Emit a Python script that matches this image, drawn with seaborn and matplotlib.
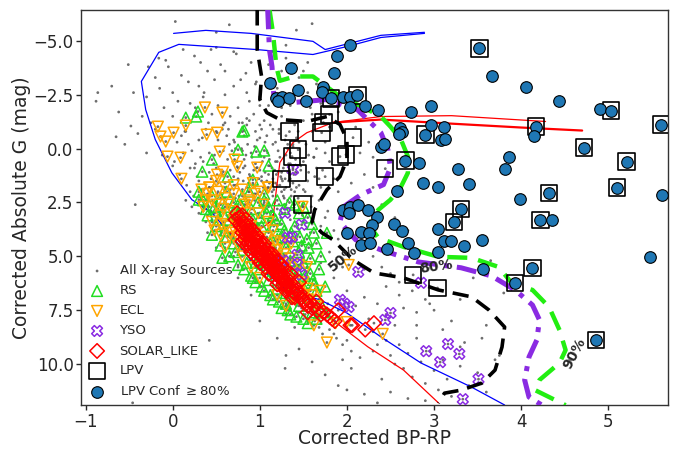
import numpy as np
import pandas as pd
import matplotlib
matplotlib.use("Agg")
import matplotlib.pyplot as plt
import seaborn as sns

# ---------------- data ----------------
gray_x = [-0.88,-0.86,-0.65,-0.48,-0.51,0.03,0.5,0.65,-0.16,0.25,-0.05,0.1,0.4,-0.2,0.55,0.78,0.9,0.3,0.0,-0.3,
          0.6,0.85,-0.1,0.2,0.45,0.75,-0.35,-0.2,0.05,0.3,0.35,0.0,-0.3,0.65,0.8,0.95,1.05,1.2,1.1,1.45,1.55,1.7,
          0.7,0.75,0.82,0.88,0.9,0.95,1.0,1.02,1.05,1.08,1.1,1.12,1.15,1.18,1.2,1.22,1.25,1.28,1.3,1.32,1.35,1.38,
          1.4,1.45,1.5,1.55,1.6,1.65,1.7,1.75,0.6,0.65,0.7,0.78,0.85,0.92,0.98,1.05,1.12,1.2,1.26,1.35,1.42,1.5,1.58,
          1.0,1.15,1.3,1.25,1.4,1.45,1.6,1.65,1.8,1.85,1.9,1.95,2.05,2.2,2.3,2.25,2.1,1.9,0.5,0.45,0.55,0.4,0.3,0.2,0.25,
          0.35,0.45,0.5,0.55,0.62,0.68,0.72,0.78,0.82,0.88,0.9,0.95,1.0,1.05,1.1,1.15,1.2,1.25,1.3,1.35,1.4,1.45,1.5,
          1.55,1.6,1.7,1.75,1.85,1.9,2.0,0.6,0.7,0.8,1.0,1.1,1.3,1.4,0.4,0.5,
          1.6,1.7,1.8,1.85,1.95,2.0,2.1,2.2,2.25,2.3,2.35,2.45,2.5,2.55,2.6,2.65,2.7,2.75,2.8,2.85,2.9,2.95,3.0,3.05,
          3.1,3.15,3.2,3.3,3.35,3.4,3.5,3.45,3.6,2.6,2.4,2.2,1.45,1.6,1.75,1.9,2.05,2.2,2.4,2.5,1.2,1.0,2.7,2.9,3.65,3.2,
          1.4,1.6,1.75,1.8,2.0,2.15,2.3,2.4,2.0,1.7,1.9,-0.43,-0.46,0.42,0.75,1.29,
          0.15,0.35,0.6,0.85,1.0,1.15,0.95,0.7,0.5,1.3,1.5,1.65,1.35,0.85,1.25,1.55,0.72,1.08,1.38,1.62,
          2.6,2.8,3.1,3.3,2.45,2.95,2.2,3.6,3.75,1.3,1.95,2.35,
          0.62,0.68,0.71,0.74,0.77,0.79,0.81,0.83,0.86,0.87,0.89,0.91,0.93,0.94,0.96,0.97,0.99,1.01,1.03,1.04,
          1.06,1.07,1.09,1.11,1.13,1.14,1.16,1.17,1.19,1.21,1.23,1.24,1.27,1.29,1.31,1.33,1.36,1.39,1.41,1.44,
          1.47,1.49,1.52,1.56,1.59,1.63,1.68,1.72,1.78,0.66,0.72,0.76,0.8,0.84,0.9,0.98,1.02,1.08,1.12,1.18,
          1.22,1.32,1.42,1.5,1.58,0.58,0.52,0.48,0.42,0.38,
          -0.7,-0.62,-0.55,-0.45,-0.4,-0.28,-0.25,-0.15,-0.12,-0.08,0.0,0.06,0.12,0.14,0.18,0.22,0.26,0.32,0.36,0.41,
          0.44,0.48,0.52,0.57,0.6,0.66,0.7,0.73,0.8,0.84,0.88,0.93,0.96,1.0,1.1,1.15,1.3,1.42,1.6,1.25,
          0.3,0.42,0.48,0.58,0.64,0.7,0.74,0.84,0.92,0.97,1.04,1.08,1.13,1.18,1.23,1.28,1.33,1.38,1.42,1.48,
          1.52,1.58,1.63,1.68,1.72,1.8,1.88,1.95,2.05,2.15,1.08,1.18,1.28,1.38,1.48,1.58,1.68,1.78,0.6,0.75,0.9,
          1.75,1.85,2.1,2.3,2.5,2.75,2.9,3.0,3.2,3.3,2.65,2.45,2.8,2.3,2.55,2.0,2.35,3.55,3.7,3.6,3.8,3.4,3.0,2.7,2.55,
          0.02,0.08,0.12,0.16,0.2,0.24,0.28,0.32,0.36,0.4,0.44,0.47,0.51,0.54,0.57,0.6,0.63,0.66,0.69,0.72,
          0.75,0.78,0.81,0.84,0.87,0.9,0.93,0.96,0.99,1.02,1.05,1.08,1.11,1.14,1.17,1.2,1.23,1.26,1.29,1.32,
          1.35,1.38,1.41,1.44,1.47,1.5,1.53,1.56,1.62,1.68,
          0.1,0.18,0.26,0.34,0.42,0.5,0.58,0.64,0.7,0.76,0.82,0.88,0.94,1.0,1.06,0.3,0.38,0.46,0.22,0.15,
          0.56,0.64,0.7,0.52,0.44,
          1.21,1.24,1.27,1.3,1.33,1.36,1.39,1.42,1.45,1.25,1.3,1.35,1.4,1.2,1.28,1.32,1.38,1.22,1.18,1.15]
gray_y = [-2.2,-2.6,-0.55,-1.05,-3.9,-5.9,-5.4,-5.75,-4.2,-4.3,-3.8,-3.4,-3.6,-3.3,-3.9,-3.2,-4.0,-2.9,-2.6,-2.4,
          -2.5,-2.6,-1.9,-2.1,-1.6,-1.9,-1.5,-0.9,-0.3,-0.4,0.6,0.8,0.2,-0.2,0.1,-0.8,-1.3,-2.8,-3.9,-3.3,-4.0,-2.1,
          0.3,0.9,0.5,1.2,0.2,0.7,1.0,1.5,0.4,1.9,1.2,0.8,2.2,1.6,0.6,2.6,1.1,1.9,0.3,2.4,1.4,0.9,
          2.0,1.7,0.6,1.5,2.2,0.9,1.8,0.2,1.6,2.2,1.3,2.5,1.8,2.8,2.3,3.0,3.2,3.5,3.0,3.3,2.9,3.4,3.9,
          -0.5,-0.2,-0.6,-1.5,-1.1,-0.3,-0.8,0.0,0.6,1.4,2.0,0.9,1.6,1.2,0.4,-0.3,-1.0,-1.7,0.9,1.8,2.6,2.3,1.5,2.0,0.9,
          2.9,3.3,2.5,3.8,3.1,4.2,3.5,4.6,3.9,5.2,4.3,5.5,4.8,5.9,5.2,6.4,5.6,6.8,6.1,7.2,6.5,7.6,6.9,
          8.0,7.3,8.1,7.5,8.6,7.9,8.9,4.4,5.0,5.6,6.4,6.9,7.7,8.3,3.9,4.6,
          4.5,5.3,4.8,6.0,5.5,6.6,7.3,6.9,7.9,8.5,7.2,8.9,9.6,8.2,9.1,10.2,9.5,10.6,8.8,9.9,10.9,9.4,10.3,11.2,
          9.8,10.7,11.5,10.1,9.0,11.0,10.4,6.0,7.4,6.2,5.5,4.6,9.3,9.9,10.5,11.0,10.2,11.4,10.7,11.3,8.8,8.0,11.6,11.7,5.2,4.2,
          -2.5,-1.6,-0.3,-1.0,-0.2,0.2,1.8,2.6,3.2,3.6,4.2,2.6,11.8,8.9,5.5,10.2,
          -0.8,-2.4,-1.2,-1.1,-2.0,-0.9,-3.0,-4.5,-4.7,-4.8,-3.6,-3.0,-2.0,-1.4,-1.9,-2.6,0.0,0.1,-0.1,0.4,
          6.8,7.6,8.4,9.2,6.4,7.2,5.6,8.2,9.6,9.6,9.8,9.1,
          -0.6,0.1,-0.3,0.6,1.1,0.0,1.5,0.8,-0.2,2.0,1.3,0.4,1.7,2.4,0.9,-0.4,1.4,2.7,0.6,1.8,
          1.1,2.3,0.2,1.6,2.9,0.9,1.9,2.5,1.2,0.1,1.7,3.2,2.2,1.4,2.8,0.7,1.9,2.6,1.1,2.3,
          1.0,3.1,2.0,0.3,2.7,1.3,2.4,1.0,2.9,1.0,1.7,2.2,2.9,0.3,3.2,3.5,-0.9,-0.6,-1.1,-0.3,
          -0.9,-0.2,-0.5,-1.3,-1.9,-1.1,-0.4,0.3,1.1,-0.9,
          -2.9,-1.7,-0.2,-2.6,-0.7,-3.8,-1.2,-2.8,0.3,-4.1,-1.5,-2.2,-4.6,-0.8,-3.1,0.1,-1.9,-4.0,-2.6,-1.2,
          -4.6,-3.2,-2.0,-0.9,-3.6,-1.5,-2.9,-4.4,-1.2,-3.5,-2.2,-1.6,-3.1,-2.4,-2.0,-4.5,-4.2,-5.5,-5.8,-3.6,
          2.6,2.7,3.0,3.4,3.9,4.0,4.2,4.4,5.0,5.1,5.4,5.6,6.0,6.1,6.5,6.4,6.9,7.1,7.3,7.4,
          7.7,7.8,8.0,8.3,8.6,8.4,8.8,9.1,9.4,9.7,4.3,4.6,5.0,5.6,6.0,6.6,7.0,7.2,5.2,6.0,6.8,
          3.2,3.8,4.0,5.0,5.8,6.6,7.0,7.5,8.0,7.0,7.4,7.7,8.2,9.4,10.0,11.2,11.8,8.8,9.8,11.3,6.7,5.6,4.7,3.8,3.2,
          0.6,1.2,0.2,1.7,0.9,2.2,1.3,0.4,1.9,2.6,1.4,0.7,2.1,3.0,1.2,2.5,0.5,1.9,3.4,2.3,
          1.4,3.1,0.9,2.6,1.6,3.0,1.0,2.1,0.3,1.3,2.5,1.5,0.5,2.0,1.0,2.8,0.4,1.5,-0.4,1.1,
          0.2,1.6,0.5,-0.8,0.8,1.9,-0.2,1.1,0.4,1.4,
          -0.6,-0.2,0.7,-0.5,0.2,-0.8,0.1,-0.9,-0.4,-1.2,-0.6,-1.3,-0.1,-1.1,-0.3,3.0,3.4,3.6,2.7,2.4,
          3.9,4.3,2.7,1.6,2.9,
          1.1,1.3,0.9,1.8,1.5,2.2,1.2,1.8,2.5,2.0,2.6,0.7,2.9,1.7,2.3,0.0,-0.2,-0.7,0.6,1.4]

rs_x = [0.29,0.15,0.27,0.82,0.75,0.45,0.34,0.30,0.96,1.05,1.10,0.92,0.63,0.80,1.77,0.57,
        0.35,0.45,0.5,0.55,0.6,0.65,0.7,0.75,0.8,0.85,0.9,0.95,1.0,1.05,1.1,1.15,1.2,1.25,1.3,1.34,1.4,1.45,1.54,
        1.5,1.58,1.61,1.65,1.55,1.45,1.3,1.4,1.35,1.25,1.2,1.1,1.0,0.95,0.85,0.8,0.7,0.6,0.5,0.45,0.55,0.65,0.75,
        0.9,1.05,1.15,1.25,1.35,1.5,1.6,1.7,1.75,1.7,1.65,1.6,1.5,1.45,1.2,1.1,0.95,1.05,1.15,1.3,1.4,1.5,0.3,0.4,
        0.62,0.72,0.82,0.92,1.02,1.12,1.22,1.32,1.42,1.52,1.62,1.56,1.46,1.36,1.26,1.16,1.08,0.98,0.88,0.78,
        0.68,0.58,0.48,0.38,0.52,0.62,0.72,0.82,0.92,1.02,1.12,1.22,1.32,1.42,1.55,1.65,1.75,1.68,1.58,1.48,
        1.38,1.28,1.18,1.28,1.4,1.55,1.62,1.05,0.85,0.95,1.3]
rs_y = [-1.72,-1.44,-1.49,-0.84,0.05,0.51,1.07,2.37,0.14,0.09,0.79,1.44,1.30,-0.79,3.91,5.07,
        2.4,2.2,2.9,2.3,2.7,3.3,2.5,3.0,2.2,3.4,2.8,3.7,3.2,2.1,3.9,3.1,4.2,3.5,4.6,2.5,3.6,4.8,4.2,
        5.3,5.8,6.1,6.6,6.9,7.3,7.2,6.0,5.2,5.7,6.5,6.1,5.6,6.2,5.3,4.7,4.4,3.8,3.6,4.0,4.5,5.0,5.4,
        5.9,6.6,7.0,7.4,7.7,7.9,7.6,7.2,6.4,5.0,4.4,3.5,2.7,3.0,2.4,2.7,4.5,4.9,5.3,6.7,6.9,6.4,2.0,3.1,
        2.0,2.8,3.2,3.3,3.6,4.4,4.9,5.4,5.6,5.9,6.3,4.6,4.1,3.9,4.1,3.6,3.0,2.5,2.0,2.6,
        3.1,3.0,2.7,2.8,3.3,4.1,4.8,5.6,6.0,6.4,6.8,7.1,7.5,7.8,8.1,7.9,7.6,5.6,5.1,4.5,
        4.3,3.8,3.3,2.8,2.6,3.2,3.9,2.4,4.0,5.3,6.3]

ecl_x = [0.37,0.57,-0.17,-0.14,-0.08,0.01,0.15,0.39,0.51,-0.06,0.09,0.54,0.71,0.74,0.10,0.42,0.51,0.58,0.97,1.09,0.87,1.49,
         0.35,0.4,0.45,0.5,0.55,0.6,0.62,0.68,0.72,0.78,0.82,0.86,0.9,0.95,1.0,1.05,1.1,1.15,1.2,1.25,1.3,1.35,1.4,1.45,
         1.5,1.55,1.6,1.7,1.62,0.65,0.75,0.55,0.7,0.88,0.98,1.1,1.0,0.92,1.1,1.18,1.28,1.36,0.8,0.9,1.0,1.2,1.3,
         1.77,1.87,2.0,2.41,2.02,1.54,1.69,0.42,
         0.33,0.45,0.52,0.58,0.64,0.7,0.76,0.84,0.9,0.96,1.02,1.08,1.12,1.18,1.22,0.7,0.8,0.6,0.5,0.38,0.94,1.04,
         0.66,0.56,0.48,0.85,0.78,1.24,1.15,1.35,1.45,1.55,1.65,1.4,0.6]
ecl_y = [-1.91,-1.67,-1.02,-0.56,-0.33,-0.74,-1.07,-0.65,-0.74,0.37,0.42,0.14,0.51,0.84,1.40,1.81,1.21,1.07,0.88,1.81,2.51,2.70,
         2.7,2.1,3.4,2.6,3.1,2.3,3.6,2.9,3.9,3.3,2.6,4.1,3.6,4.8,4.2,5.1,4.6,5.6,5.0,6.0,5.5,6.4,5.8,6.7,
         6.2,7.0,6.8,7.6,8.2,4.1,4.5,4.0,2.1,2.4,3.0,3.4,2.0,1.6,1.8,4.3,4.9,4.4,5.0,5.5,6.0,6.8,7.3,
         9.0,8.1,8.05,8.6,5.4,5.5,6.6,1.8,
         1.9,2.4,2.0,2.8,2.6,3.3,3.6,3.0,4.1,3.9,4.6,4.1,5.1,4.7,5.3,1.7,1.9,1.8,1.5,2.4,2.1,2.6,
         3.9,3.5,3.8,3.7,4.0,4.4,3.8,5.1,5.4,6.5,7.3,7.0,4.6]

yso_x = [1.29,1.48,1.32,1.37,1.43,1.43,1.48,1.27,1.92,2.02,1.97,2.50,2.44,2.13,3.16,2.91,3.29,3.07,3.51,3.33,2.85,1.38]
yso_y = [2.98,3.53,4.14,4.10,4.93,5.40,5.85,5.20,7.02,7.35,7.20,7.63,7.95,5.72,9.07,9.40,9.53,9.91,10.70,11.63,6.23,0.98]

sol_x = [0.72,0.76,0.78,0.8,0.82,0.84,0.86,0.88,0.9,0.92,0.94,0.96,0.98,1.0,1.0,1.02,1.04,1.06,1.08,1.1,1.1,1.12,
         1.14,1.16,1.18,1.2,1.22,1.24,1.26,1.28,1.3,1.32,1.35,1.38,1.4,1.43,1.46,1.5,1.53,1.57,1.6,1.66,1.73,1.8,
         1.86,0.85,0.9,0.95,1.05,1.15,1.25,1.35,1.45,1.2,1.1,1.0,0.9,1.3,1.4,1.55,1.65,0.8,
         2.04,2.21,2.31,2.06,1.9,
         0.74,0.77,0.79,0.81,0.83,0.85,0.87,0.89,0.91,0.93,0.95,0.97,0.99,1.01,1.03,1.05,1.07,1.09,1.11,1.13,
         1.15,1.17,1.19,1.21,1.23,1.25,1.27,1.29,1.31,1.33,1.36,1.39,1.42,1.48,1.51,1.55,1.62,1.7,1.77,1.83,
         0.8,0.84,0.88,0.92,0.96,1.0,1.04,1.08,1.12,1.16,1.2,1.24,1.28,1.32,0.86,0.9,0.98,1.06,1.14,1.22,1.3,1.37]
sol_y = [3.3,3.2,3.6,3.9,3.5,4.0,3.8,4.2,4.4,4.1,4.6,4.3,4.7,4.5,4.9,4.7,5.0,4.8,5.2,5.0,5.4,5.2,
         5.5,5.3,5.7,5.5,5.9,5.7,6.0,6.2,6.0,6.4,6.2,6.6,6.4,6.8,6.7,7.0,7.2,7.1,7.4,7.5,7.6,7.8,
         8.0,4.5,3.9,5.0,4.4,4.9,5.4,5.8,6.2,6.3,5.8,5.3,4.8,6.6,6.9,7.6,7.1,4.3,
         8.2,8.4,8.1,8.2,7.5,
         3.0,3.5,3.3,3.7,4.2,3.6,4.0,3.9,4.3,4.5,4.2,4.5,4.9,4.6,4.9,5.1,4.9,5.3,5.1,5.4,
         5.6,5.5,5.8,5.7,6.0,5.9,6.3,6.1,6.2,6.5,6.4,6.7,6.6,6.9,7.1,7.3,7.3,7.7,7.7,7.9,
         3.1,3.3,3.6,3.8,4.0,4.3,4.5,4.7,4.9,5.1,5.2,5.4,5.6,5.9,4.4,4.6,5.1,5.5,5.9,6.2,6.5,6.9]

lpv_x = [3.52,5.03,5.61,2.90,4.17,4.72,2.67,5.21,4.32,5.10,3.31,3.23,4.22,4.13,3.93,4.86,2.12,1.82,
         1.80,1.73,1.34,1.71,2.07,1.92,1.99,1.44,1.37,1.43,1.75,1.25,1.49,2.44,2.76,3.04]
lpv_y = [-4.65,-1.77,-1.12,-0.65,-1.02,-0.05,0.56,0.60,2.05,1.81,2.79,3.40,3.30,5.53,6.23,8.88,-2.47,-2.33,
         -1.58,-1.21,-0.79,-0.74,-0.51,0.37,0.28,0.05,0.37,1.12,1.30,1.40,2.60,0.93,5.86,6.47]

conf_x = [2.04,1.89,1.36,1.85,1.12,1.44,1.73,1.71,1.19,1.26,1.33,1.21,1.53,1.82,1.95,2.04,2.12,2.21,2.03,2.36,2.39,
          3.52,3.67,4.06,4.44,4.90,5.03,5.61,2.73,2.97,2.97,3.11,2.61,2.63,2.60,2.90,3.08,3.12,4.17,4.15,2.42,4.72,
          2.67,2.83,3.28,3.86,3.82,5.21,2.87,3.05,3.40,2.57,3.99,4.32,5.10,5.62,3.31,3.23,4.22,4.35,2.54,2.63,3.04,
          2.34,2.29,2.70,2.77,2.46,3.11,3.19,3.34,3.55,3.04,5.48,4.13,3.56,3.93,4.86,
          1.96,2.04,2.13,2.24,2.02,2.16,2.25,2.00,2.16,2.27]
conf_y = [-4.79,-4.28,-3.72,-3.53,-3.07,-2.70,-2.84,-2.65,-2.33,-2.42,-2.37,-2.19,-2.23,-2.33,-2.42,-2.42,-2.47,-2.00,-1.95,-1.81,-0.09,
          -4.65,-3.35,-2.88,-2.23,-1.86,-1.77,-1.12,-1.72,-2.00,-1.12,-1.02,-0.98,-0.79,-0.70,-0.65,-0.42,-0.47,-1.02,-0.60,-0.23,-0.05,
          0.56,0.65,0.93,0.37,0.93,0.60,1.58,1.77,1.63,1.95,2.33,2.05,1.81,2.14,2.79,3.40,3.30,3.30,3.49,3.81,3.72,
          3.16,3.53,4.37,4.84,4.65,4.28,4.28,4.51,4.23,4.79,5.02,5.53,5.58,6.23,8.88,
          2.84,2.70,2.60,2.84,2.98,3.86,3.91,3.91,4.47,4.37]

# isochrone tracks
blue_x = [2.89,2.39,2.0,1.61,0.96,0.07,-0.16,-0.36,-0.31,-0.20,-0.01,0.22,0.45,0.65,0.92,1.31,1.69,2.0,2.39,2.85,3.43,3.81]
blue_y = [-5.35,-5.16,-4.74,-4.37,-4.6,-4.84,-4.47,-3.12,-1.81,-0.42,1.12,2.37,2.98,3.91,5.3,6.56,7.02,7.63,8.74,9.95,11.07,11.9]
blue2_x = [0.01,0.38,0.9,1.61,1.75,2.39,2.89]
blue2_y = [-5.35,-5.49,-5.35,-4.98,-4.6,-5.26,-5.4]

red_x = [0.65,1.03,1.15,1.19,1.23,1.38,1.54,1.84,2.39,3.2,4.28]
red_y = [3.86,3.67,3.3,1.9,0.65,-0.28,-0.74,-1.21,-1.49,-1.53,-1.26]
red2_x = [1.84,2.39,3.2,4.0,4.7]
red2_y = [-1.21,-1.35,-1.16,-0.98,-0.84]
red3_x = [0.65,0.9,1.2,1.5,1.73,2.24,2.65,3.05]
red3_y = [3.86,4.9,6.2,7.0,7.63,9.2,10.28,11.8]

# contour lines
c50_x = [0.97,0.97,1.02,1.0,1.08,1.23,1.54,1.77,1.92,2.0,2.0,1.92,1.77,1.63,1.6,1.71,1.84,2.07,2.31,2.65,3.05,3.43,3.63,
         3.81,3.78,3.7,3.55,3.31,3.12,3.05]
c50_y = [-6.47,-4.6,-3.35,-2.28,-1.67,-1.35,-1.26,-1.49,-1.12,-0.42,0.51,1.3,1.91,2.84,3.4,3.9,4.23,5.16,5.77,6.0,6.56,6.88,7.49,
         8.28,9.21,10.28,10.88,11.21,11.35,11.81]
c80_x = [1.11,1.15,1.19,1.23,1.4,1.61,1.92,2.24,2.39,2.5,2.62,2.7,2.7,2.62,2.5,2.36,2.25,2.36,2.65,3.05,3.43,3.74,3.89,4.13,
         4.32,4.44,4.51,4.44,4.21,4.16,4.32,4.51]
c80_y = [-6.47,-5.4,-3.81,-3.15,-3.35,-3.35,-2.42,-1.81,-1.49,-1.02,-0.42,0.37,1.12,1.77,2.37,2.84,3.53,4.14,4.56,5.02,5.07,5.49,6.23,6.56,
         7.35,8.42,9.35,9.95,10.74,11.21,11.53,11.91]
c90_x = [1.09,1.11,1.14,1.16,1.38,1.77,2.12,2.39,2.47,2.5,2.42,2.16,1.96,1.92,2.1,2.39,2.82,3.31,3.66,3.93,4.13,4.21,4.18,4.09,
         4.04,4.09,4.24]
c90_y = [-6.47,-4.6,-3.81,-2.51,-2.14,-2.28,-1.81,-0.74,0.05,0.88,1.67,2.14,2.7,3.4,4.23,4.7,5.26,5.53,5.91,6.56,7.26,7.95,8.88,9.67,
         10.74,11.53,11.91]

x_ticks = [-1, 0, 1, 2, 3, 4, 5]
y_ticks = [-5.0, -2.5, 0.0, 2.5, 5.0, 7.5, 10.0]

# every classified source is also an X-ray source
all_x = gray_x + rs_x + ecl_x + yso_x + sol_x + lpv_x
all_y = gray_y + rs_y + ecl_y + yso_y + sol_y + lpv_y

# ---------------- plot ----------------
sns.set_style("white")
plt.rcParams['font.family'] = ['DejaVu Sans']
fig = plt.figure(figsize=(6.77, 4.5), dpi=100)
ax = fig.add_axes([0.12, 0.10, 0.866, 0.878])

def line(x, y, **kw):
    sns.lineplot(x=x, y=y, sort=False, estimator=None, ax=ax, **kw)

line(blue_x, blue_y, color='blue', lw=0.9, zorder=2)
line(blue2_x, blue2_y, color='blue', lw=0.9, zorder=2)
line(red_x, red_y, color='red', lw=0.9, zorder=2)
line(red2_x, red2_y, color='red', lw=1.6, zorder=2)
line(red3_x, red3_y, color='red', lw=0.9, zorder=2)

sns.scatterplot(x=all_x, y=all_y, ax=ax, color='#555555', s=4, edgecolor='none',
                alpha=0.85, label='All X-ray Sources', zorder=1)
sns.scatterplot(x=rs_x, y=rs_y, ax=ax, marker='^', s=60, facecolor='none', edgecolor='#22dd22',
                linewidth=1.1, label='RS', zorder=3)
sns.scatterplot(x=ecl_x, y=ecl_y, ax=ax, marker='v', s=60, facecolor='none', edgecolor='orange',
                linewidth=1.1, label='ECL', zorder=3)
sns.scatterplot(x=yso_x, y=yso_y, ax=ax, marker='X', s=60, facecolor='none', edgecolor='blueviolet',
                linewidth=1.1, label='YSO', zorder=3)
sns.scatterplot(x=sol_x, y=sol_y, ax=ax, marker='D', s=55, facecolor='none', edgecolor='red',
                linewidth=1.1, label='SOLAR_LIKE', zorder=3)

line(c50_x, c50_y, color='black', lw=2.6, linestyle=(0, (4.5, 2.5)), zorder=4)
line(c80_x, c80_y, color='#22ee11', lw=3.2, linestyle=(0, (4.5, 2.5)), zorder=4)
line(c90_x, c90_y, color='blueviolet', lw=3.6, linestyle=(0, (4, 1.6, 1, 1.6)), zorder=4)

sns.scatterplot(x=lpv_x, y=lpv_y, ax=ax, marker='s', s=140, facecolor='none', edgecolor='black',
                linewidth=1.2, label='LPV', zorder=5)
sns.scatterplot(x=conf_x, y=conf_y, ax=ax, marker='o', s=70, color='#1f77b4', edgecolor='black',
                linewidth=0.8, label='LPV Conf $\\geq$80%', zorder=6)

ax.text(1.96, 5.07, '50%', rotation=40, fontsize=10, fontweight='bold', ha='center', va='center', zorder=7)
ax.text(3.02, 5.49, '80%', rotation=8, fontsize=10, fontweight='bold', ha='center', va='center', zorder=7)
ax.text(4.61, 9.49, '90%', rotation=62, fontsize=10, fontweight='bold', ha='center', va='center', zorder=7)

ax.set_xlim(-1.05, 5.68)
ax.set_ylim(11.9, -6.44)
ax.set_xticks(x_ticks)
ax.set_yticks(y_ticks)
ax.set_xlabel('Corrected BP-RP', fontsize=13.5, labelpad=-1)
ax.set_ylabel('Corrected Absolute G (mag)', fontsize=13.5, labelpad=2)
ax.tick_params(axis='both', labelsize=12, direction='out', length=3.5, width=1, pad=2,
               bottom=True, left=True)
for sp in ax.spines.values():
    sp.set_color('#333333')
    sp.set_linewidth(1.0)

leg = ax.legend(loc='lower left', frameon=False, fontsize=9.5, labelspacing=0.53,
                handlelength=1.4, handletextpad=1.0, borderaxespad=0.1, markerscale=1.0)
fig.savefig('out.png', dpi=100)
